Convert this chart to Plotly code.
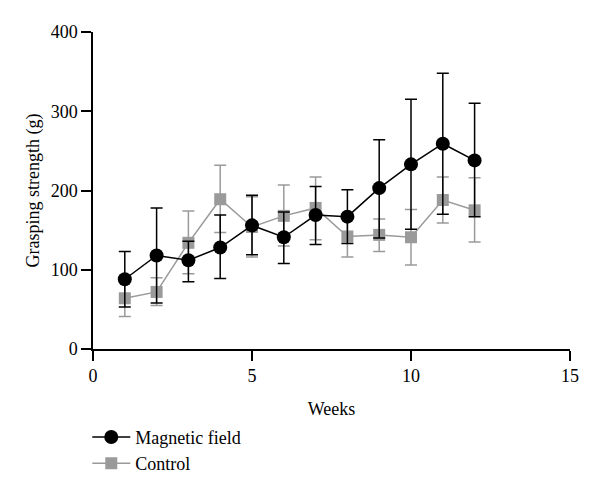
import plotly.graph_objects as go

weeks = [1, 2, 3, 4, 5, 6, 7, 8, 9, 10, 11, 12]

mag_mean = [88, 118, 112, 128, 156, 141, 169, 167, 203, 233, 259, 238]
mag_upper = [123, 178, 136, 169, 194, 173, 205, 201, 264, 315, 348, 310]
mag_lower = [53, 58, 85, 89, 119, 108, 132, 133, 140, 151, 170, 167]

ctl_mean = [64, 72, 134, 189, 154, 168, 178, 142, 144, 141, 188, 175]
ctl_upper = [87, 90, 174, 232, 192, 207, 217, 168, 164, 176, 217, 216]
ctl_lower = [41, 55, 95, 147, 116, 130, 138, 116, 123, 106, 159, 135]

def plus(m, u):
    return [a - b for a, b in zip(u, m)]

def minus(m, l):
    return [a - b for a, b in zip(m, l)]

fig = go.Figure()

fig.add_trace(go.Scatter(
    x=weeks, y=ctl_mean, name="Control", mode="lines+markers",
    line=dict(color="#9a9a9a", width=1.5),
    marker=dict(symbol="square", size=12, color="#9a9a9a"),
    error_y=dict(type="data", symmetric=False,
                 array=plus(ctl_mean, ctl_upper),
                 arrayminus=minus(ctl_mean, ctl_lower),
                 color="#9a9a9a", thickness=1.5, width=6),
    legendrank=2,
))

fig.add_trace(go.Scatter(
    x=weeks, y=mag_mean, name="Magnetic field", mode="lines+markers",
    line=dict(color="black", width=1.5),
    marker=dict(symbol="circle", size=14, color="black"),
    error_y=dict(type="data", symmetric=False,
                 array=plus(mag_mean, mag_upper),
                 arrayminus=minus(mag_mean, mag_lower),
                 color="black", thickness=1.5, width=6),
    legendrank=1,
))

fig.update_layout(
    width=600, height=498,
    margin=dict(l=85, r=38, t=24, b=157, autoexpand=False),
    plot_bgcolor="white", paper_bgcolor="white",
    font=dict(family="Liberation Serif, Times New Roman, serif", size=17, color="black"),
    showlegend=True,
    legend=dict(x=-0.012, y=-0.22, xanchor="left", yanchor="top",
                bgcolor="rgba(0,0,0,0)", font=dict(size=18),
                tracegroupgap=0, itemwidth=38),
    xaxis=dict(range=[0, 15], tickvals=[0, 5, 10, 15], showgrid=False, zeroline=False,
               showline=True, linecolor="black", linewidth=1.5, automargin=False,
               ticks="outside", ticklen=10, tickwidth=1.5, tickcolor="black",
               title=dict(text="Weeks", standoff=17, font=dict(size=18)), tickfont=dict(size=18)),
    yaxis=dict(range=[0, 400], tickvals=[0, 100, 200, 300, 400], showgrid=False, zeroline=False,
               showline=True, linecolor="black", linewidth=1.5, automargin=False,
               ticks="outside", ticklen=10, tickwidth=1.5, tickcolor="black",
               title=dict(text="Grasping strength (g)", standoff=6, font=dict(size=18)),
               tickfont=dict(size=18)),
)

fig.write_html("out.html")
